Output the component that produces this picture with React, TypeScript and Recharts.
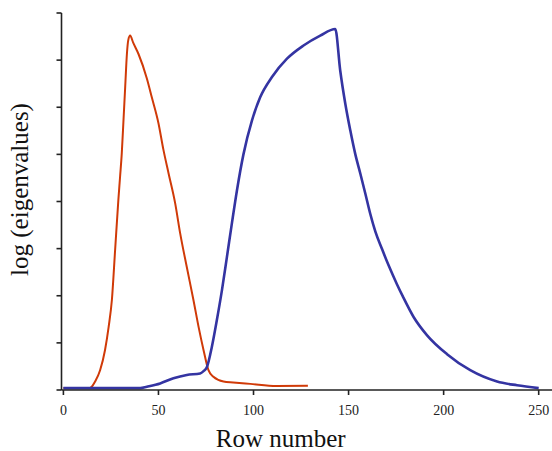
import { LineChart, Line, XAxis, YAxis, Label } from "recharts";

const X_TICKS = [0, 50, 100, 150, 200, 250];
const Y_TICKS = [0, 1, 2, 3, 4, 5, 6, 7, 8];

// red series: row number vs log eigenvalue
const redRows = [0, 13.2, 14.9, 16.7, 19.3, 21.9, 23.8, 25.5, 27.2, 28.9, 29.8, 30.7, 31.6, 32.5, 33.4, 34.1, 35.1, 36.7, 39.5, 43.9, 46.5, 50, 52.6, 55.3, 58.8, 61.4, 64.9, 68.4, 71.1, 73.7, 76.3, 78.9, 84.2, 89.3, 98.3, 112, 128.6];
const redVals = [0.04, 0.04, 0.07, 0.18, 0.42, 0.85, 1.34, 1.91, 2.97, 4.03, 4.52, 5.02, 5.72, 6.43, 7.13, 7.42, 7.52, 7.37, 7.13, 6.61, 6.21, 5.66, 5.1, 4.6, 3.96, 3.33, 2.61, 1.91, 1.34, 0.85, 0.42, 0.28, 0.18, 0.16, 0.13, 0.085, 0.09];

// blue series
const blueRows = [0, 40.4, 43.9, 50.9, 57.9, 64.9, 71.9, 73.7, 75.5, 78.1, 80.7, 83.4, 86, 88.6, 91.3, 94.7, 99.2, 103.5, 109.7, 117.6, 126.3, 135.1, 143, 145.6, 148.3, 150.9, 153.5, 156.2, 158.8, 161.4, 164.1, 167.6, 171.1, 175.5, 178.6, 184.2, 191.3, 201.8, 214, 228.1, 238.6, 250];
const blueVals = [0.04, 0.04, 0.07, 0.14, 0.25, 0.32, 0.35, 0.4, 0.49, 0.92, 1.48, 2.12, 2.82, 3.53, 4.24, 5.0, 5.72, 6.21, 6.64, 7.03, 7.31, 7.52, 7.66, 6.78, 6.07, 5.51, 5.01, 4.59, 4.17, 3.74, 3.36, 2.99, 2.64, 2.24, 1.98, 1.55, 1.16, 0.76, 0.42, 0.18, 0.1, 0.04];

const redData = redRows.map((row, i) => ({ row, v: redVals[i] }));
const blueData = blueRows.map((row, i) => ({ row, v: blueVals[i] }));

const FONT = "'Liberation Serif', 'DejaVu Serif', serif";

export default function App() {
  return (
    <div style={{ position: "absolute", left: 0, top: 0, background: "#fff" }}>
      <LineChart width={552} height={451} margin={{ top: 13, right: 0, left: 0, bottom: 0 }}>
        <XAxis
          type="number"
          dataKey="row"
          domain={[-1, 257]}
          ticks={X_TICKS}
          allowDataOverflow
          height={61}
          stroke="#222"
          strokeWidth={1.6}
          tickSize={5}
          tickMargin={10}
          tick={{ fontSize: 14, fill: "#222", fontFamily: FONT }}
        >
          <Label
            value="Row number"
            position="insideBottom"
            offset={4}
            dx={-26}
            style={{ fontSize: 25, fill: "#111", fontFamily: FONT }}
          />
        </XAxis>
        <YAxis
          type="number"
          domain={[0, 8]}
          ticks={Y_TICKS}
          width={61.5}
          stroke="#222"
          strokeWidth={1.6}
          tickSize={5}
          tickFormatter={() => ""}
        >
          <Label
            value="log (eigenvalues)"
            angle={-90}
            position="insideLeft"
            offset={19}
            dy={-12}
            style={{ fontSize: 25, fill: "#111", fontFamily: FONT, textAnchor: "middle" }}
          />
        </YAxis>
        <Line
          data={redData}
          dataKey="v"
          type="monotoneX"
          stroke="#d03a08"
          strokeWidth={2}
          dot={false}
          isAnimationActive={false}
        />
        <Line
          data={blueData}
          dataKey="v"
          type="monotoneX"
          stroke="#3434a2"
          strokeWidth={2.6}
          dot={false}
          isAnimationActive={false}
        />
      </LineChart>
    </div>
  );
}
